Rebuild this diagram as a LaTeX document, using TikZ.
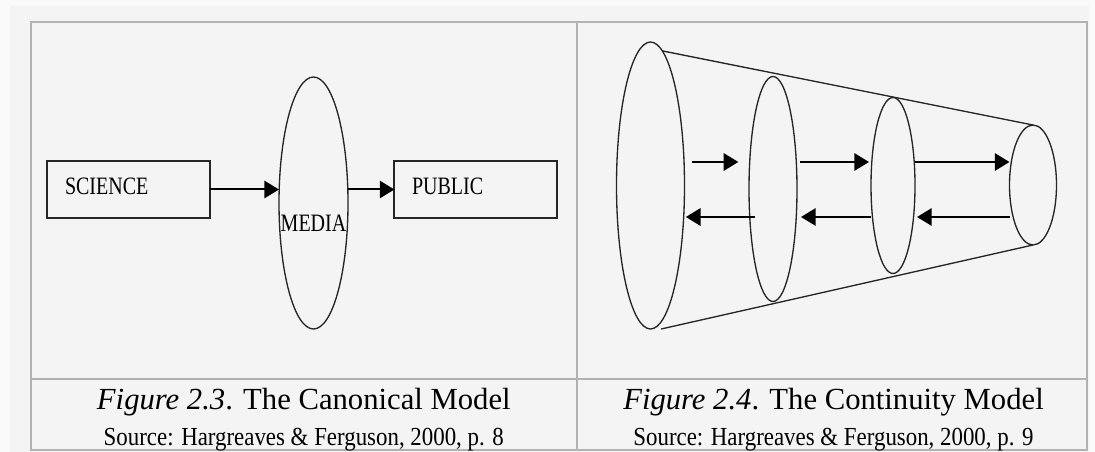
\documentclass[tikz,border=0pt]{standalone}
\usepackage{fontspec}
\setmainfont{Liberation Serif}
\newfontfamily\boxfont[FakeStretch=0.8]{Liberation Serif}
\newfontfamily\srcfont[FakeStretch=0.88]{Liberation Serif}
\usetikzlibrary{shapes.geometric, arrows.meta}

\begin{document}
\begin{tikzpicture}[x=0.75pt, y=-0.75pt,
    every node/.style={inner sep=0pt, outer sep=0pt},
    box/.style={draw=black!85, line width=1.4pt, minimum width=122pt, minimum height=42.75pt},
    tag/.style={font=\boxfont\fontsize{18.75pt}{20pt}\selectfont},
    ring/.style={draw=black!85, line width=1pt, ellipse},
    arr/.style={line width=1.5pt, -{Triangle[length=11pt, width=13pt]}},
    rule/.style={draw=black!30, line width=1.5pt},
    title/.style={font=\fontsize{23pt}{26pt}\selectfont},
    source/.style={font=\srcfont\fontsize{19.5pt}{22pt}\selectfont}]

    \useasboundingbox (0,0) rectangle (1095,452);
    \fill[white!98!black] (0,0) rectangle (1095,452);
    \fill[white!95.5!black] (10,6) rectangle (1089,452);

    \draw[rule] (30.5,21.7) rectangle (1087,450);
    \draw[rule] (577,21.7) -- (577,450);
    \draw[rule] (30.5,379) -- (1087,379);

    \node[box] (science) at (128.5,189.5) {};
    \node[tag, anchor=west] (sciencetext) at (65,186) {SCIENCE};
    \node[ring, minimum width=51.75pt, minimum height=189pt] (media) at (313.5,203) {};
    \node[tag] (mediatext) at (313.5,223) {MEDIA};
    \node[box] (public) at (475.75,189.5) {};
    \node[tag, anchor=west] (publictext) at (412,186) {PUBLIC};

    \draw[arr] (science.east) -- (science.east -| media.west);
    \draw[arr] (public.west -| media.east) -- (public.west);

    \node[ring, minimum width=51pt, minimum height=215.25pt] (e1) at (650.5,185.5) {};
    \node[ring, minimum width=36pt, minimum height=168.75pt] (e2) at (773,189) {};
    \node[ring, minimum width=33pt, minimum height=132pt] (e3) at (893,185.5) {};
    \node[ring, minimum width=35.25pt, minimum height=90pt] (e4) at (1033,185) {};

    \draw[black!85, line width=1pt] (e1.85) -- (e4.north);
    \draw[black!85, line width=1pt] ([xshift=8pt]e1.south) -- (e4.south);

    \coordinate (up) at (0,162);
    \coordinate (down) at (0,217);
    \draw[arr, shorten <=5.5pt, shorten >=8pt] (e1.east |- up) -- (e2.west |- up);
    \draw[arr, shorten <=2.5pt, shorten >=1.5pt] (e2.east |- up) -- (e3.west |- up);
    \draw[arr] (e3.east |- up) -- (e4.west |- up);
    \draw[arr, shorten <=-4.5pt, shorten >=1pt] (e2.west |- down) -- (e1.east |- down);
    \draw[arr, shorten >=3pt] (e3.west |- down) -- (e2.east |- down);
    \draw[arr, shorten >=1.5pt] (e4.west |- down) -- (e3.east |- down);

    \node[title, anchor=base] (cap1) at (303.8,409.5) {\textit{Figure 2.3}. The Canonical Model};
    \node[source, anchor=base] (src1) at (303.8,445) {Source: Hargreaves \& Ferguson, 2000, p. 8};
    \node[title, anchor=base] (cap2) at (833.5,409.5) {\textit{Figure 2.4}. The Continuity Model};
    \node[source, anchor=base] (src2) at (833.5,445) {Source: Hargreaves \& Ferguson, 2000, p. 9};
\end{tikzpicture}
\end{document}
